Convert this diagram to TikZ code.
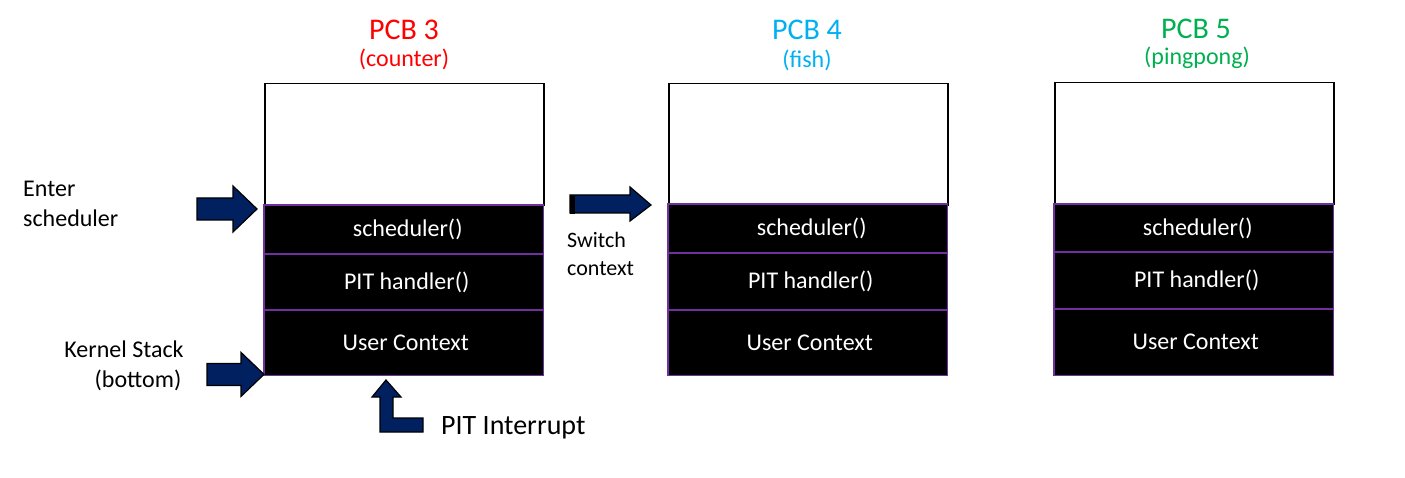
\documentclass[tikz,border=0pt]{standalone}
\usepackage{fontspec}
\setmainfont{Carlito}
\usetikzlibrary{positioning,calc}
\definecolor{navy}{HTML}{002060}
\definecolor{framepurple}{HTML}{7030A0}
\definecolor{pcbred}{HTML}{FF0000}
\definecolor{pcbblue}{HTML}{00B0F0}
\definecolor{pcbgreen}{HTML}{00B050}
\newcommand{\fs}[1]{\fontsize{#1}{#1}\selectfont}

\begin{document}
\begin{tikzpicture}[x=1pt, y=-1pt,
  emptypart/.style={draw=black, line width=1.5pt, fill=white, minimum width=279pt, minimum height=122pt, anchor=north west, inner sep=0pt},
  framepart/.style={fill=black, text=white, minimum width=279pt, anchor=north west, inner sep=0pt, font=\fs{24}},
  frameline/.style={draw=framepurple, line width=1.5pt},
  blockarrow/.style={draw=black, line width=1.2pt, fill=navy, line join=miter},
  plain/.style={inner sep=0pt, font=\fs{24}, align=left}]
\useasboundingbox (0,0) rectangle (1405,478);

% PCB 3
\node[emptypart] (free3) at (264,83) {};
\node[framepart, minimum height=49pt] (sched3) at (264,205) {\hspace{8pt}scheduler()};
\node[framepart, minimum height=56pt] (pit3) at (264,254) {\hspace{6pt}PIT handler()};
\node[framepart, minimum height=65pt] (user3) at (264,310) {\hspace{4pt}User Context};
\node[text=pcbred, font=\fs{30}] (title3) at (404,30) {PCB 3};
\node[text=pcbred, font=\fs{24}] (name3) at (404,59) {(counter)};

% PCB 4
\node[emptypart] (free4) at (668,83) {};
\node[framepart, minimum height=49pt] (sched4) at (668,204) {\hspace{8pt}scheduler()};
\node[framepart, minimum height=57pt] (pit4) at (668,253) {\hspace{6pt}PIT handler()};
\node[framepart, minimum height=65pt] (user4) at (668,310) {\hspace{4pt}User Context};
\node[text=pcbblue, font=\fs{30}] (title4) at (807,30) {PCB 4};
\node[text=pcbblue, font=\fs{24}] (name4) at (807,60) {(fish)};

% PCB 5
\node[emptypart] (free5) at (1054,82) {};
\node[framepart, minimum height=48pt] (sched5) at (1054,204) {\hspace{8pt}scheduler()};
\node[framepart, minimum height=57pt] (pit5) at (1054,252) {\hspace{6pt}PIT handler()};
\node[framepart, minimum height=66pt] (user5) at (1054,309) {\hspace{4pt}User Context};
\node[text=pcbgreen, font=\fs{30}] (title5) at (1196,29) {PCB 5};
\node[text=pcbgreen, font=\fs{24}] (name5) at (1197,58) {(pingpong)};

% purple frames on top of the black parts
\foreach \part in {sched3,pit3,user3,sched4,pit4,user4,sched5,pit5,user5}
  \draw[frameline] (\part.north west) rectangle (\part.south east);

% side labels
\node[plain, anchor=north west] (enter) at (23,181) {Enter\\[6pt]scheduler};
\node[plain, anchor=north west, font=\fs{22}] (switch) at (567,232) {Switch\\[6pt]context};
\node[inner sep=0pt, font=\fs{24}] (kernel) at (124,349) {Kernel Stack};
\node[inner sep=0pt, font=\fs{24}] (bottom) at (138,380) {(bottom)};
\node[inner sep=0pt, font=\fs{28}, anchor=west] (pitint) at (441,428) {PIT Interrupt};

% block arrows
\coordinate (enterTip) at ($(sched3.north west)+(-7,4)$);
\draw[blockarrow] (enterTip) -- ++(-24,-23) -- ++(0,12) -- ++(-36,0) -- ++(0,22)
  -- ++(36,0) -- ++(0,12) -- cycle;
\coordinate (kernelTip) at ($(user3.south west)+(0,-1)$);
\draw[blockarrow] (kernelTip) -- ++(-23,-22) -- ++(0,11) -- ++(-34,0) -- ++(0,22)
  -- ++(34,0) -- ++(0,11) -- cycle;
\coordinate (switchTip) at ($(sched4.north west)+(-17,1)$);
\draw[blockarrow] (switchTip) -- ++(-21,-18) -- ++(0,8) -- ++(-60,0) -- ++(0,18)
  -- ++(60,0) -- ++(0,8) -- cycle;
\fill (570,196) rectangle (575,214);
\coordinate (pitTip) at (386,380);
\draw[blockarrow] (pitTip) -- ++(15,17) -- ++(-8,0) -- ++(0,21) -- ++(30,0) -- ++(0,14)
  -- ++(-43,0) -- ++(0,-35) -- ++(-8,0) -- cycle;
\end{tikzpicture}
\end{document}
